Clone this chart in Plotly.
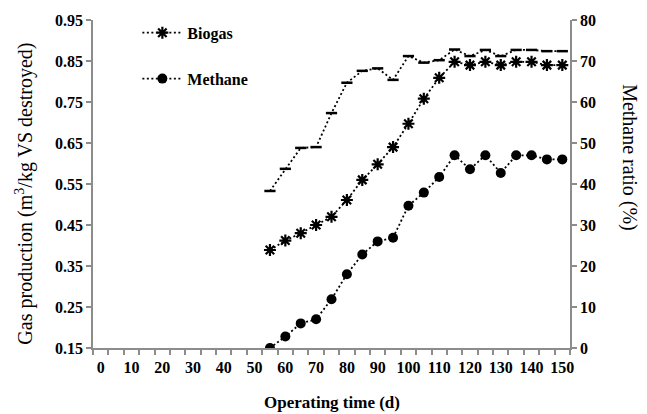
import plotly.graph_objects as go

days = [55, 60, 65, 70, 75, 80, 85, 90, 95, 100, 105, 110, 115, 120, 125, 130, 135, 140, 145, 150]
biogas = [0.389, 0.412, 0.430, 0.450, 0.470, 0.511, 0.560, 0.598, 0.640, 0.697, 0.758, 0.809,
          0.848, 0.840, 0.848, 0.840, 0.848, 0.848, 0.840, 0.840]
methane = [0.150, 0.178, 0.210, 0.220, 0.269, 0.330, 0.378, 0.410, 0.419, 0.497, 0.529, 0.567,
           0.620, 0.586, 0.620, 0.577, 0.620, 0.620, 0.610, 0.610]
methane_ratio = [38.3, 43.7, 48.8, 49.0, 57.3, 64.7, 67.6, 68.2, 65.4, 71.2, 69.6, 70.2,
                 72.8, 71.2, 72.7, 71.2, 72.7, 72.7, 72.4, 72.4]
x_ticks = list(range(0, 151, 10))
left_ticks = [0.15, 0.25, 0.35, 0.45, 0.55, 0.65, 0.75, 0.85, 0.95]
right_ticks = list(range(0, 81, 10))

FONT = "Liberation Serif"
AX = "#8c8c8c"
DOT = "2px,2.5px"

fig = go.Figure()
fig.add_trace(go.Scatter(
    x=days, y=methane_ratio, yaxis="y2", mode="lines+markers", name="Methane ratio",
    showlegend=False,
    line=dict(color="black", width=1.8, dash=DOT),
    marker=dict(symbol="line-ew", size=8, line=dict(color="black", width=2.5)),
))
fig.add_trace(go.Scatter(
    x=days, y=biogas, mode="lines+markers", name="Biogas", legend="legend",
    line=dict(color="black", width=1.8, dash=DOT),
    marker=dict(symbol="asterisk-open", size=10, line=dict(color="black", width=2.2)),
))
fig.add_trace(go.Scatter(
    x=days, y=methane, mode="lines+markers", name="Methane", legend="legend2",
    line=dict(color="black", width=1.8, dash=DOT),
    marker=dict(symbol="circle", size=10, color="black"),
))

tickfont = dict(family=FONT, size=16, color="black", weight="bold")
legfont = dict(family=FONT, size=16, color="black", weight="bold")

fig.update_layout(
    width=647, height=414,
    margin=dict(l=93, r=77, t=18, b=66),
    paper_bgcolor="white", plot_bgcolor="white",
    font=dict(family=FONT, color="black"),
    xaxis=dict(
        range=[-2.5, 152.5], tickmode="array", tickvals=x_ticks,
        ticktext=[str(v) for v in x_ticks], ticks="", tickfont=tickfont,
        ticklabelstandoff=4,
        showline=True, linecolor=AX, linewidth=1.5, showgrid=False, zeroline=False,
        minor=dict(tick0=-2.5, dtick=5, ticks="outside", ticklen=5, tickcolor=AX,
                   tickwidth=1.5, showgrid=False),
    ),
    yaxis=dict(
        range=[0.15, 0.95], tickmode="array", tickvals=left_ticks,
        ticktext=[f"{v:.2f}" for v in left_ticks], ticks="outside", ticklen=5,
        tickcolor=AX, tickwidth=1.5, tickfont=tickfont,
        showline=True, linecolor=AX, linewidth=1.5, showgrid=False, zeroline=False,
    ),
    yaxis2=dict(
        range=[0, 80], overlaying="y", side="right", tickmode="array",
        tickvals=right_ticks, ticks="outside", ticklen=5, tickcolor=AX, tickwidth=1.5,
        tickfont=tickfont, showline=True, linecolor=AX, linewidth=1.5,
        showgrid=False, zeroline=False,
    ),
    legend=dict(x=0.093, y=0.961, xanchor="left", yanchor="middle", font=legfont,
                bgcolor="rgba(0,0,0,0)", itemwidth=40),
    legend2=dict(x=0.093, y=0.821, xanchor="left", yanchor="middle", font=legfont,
                 bgcolor="rgba(0,0,0,0)", itemwidth=40),
    annotations=[
        dict(text="Gas production (m<sup>3</sup>/kg VS destroyed)", xref="paper", yref="paper",
             x=-0.143, y=0.47, xanchor="center", yanchor="middle", textangle=-90,
             showarrow=False, font=dict(family=FONT, size=20, color="black")),
        dict(text="Methane ratio (%)", xref="paper", yref="paper",
             x=1.125, y=0.58, xanchor="center", yanchor="middle", textangle=90,
             showarrow=False, font=dict(family=FONT, size=20, color="black")),
        dict(text="Operating time (d)", xref="paper", yref="paper",
             x=0.5, y=-0.165, xanchor="center", yanchor="middle",
             showarrow=False, font=dict(family=FONT, size=17, color="black", weight="bold")),
    ],
)

fig.write_html("out.html")
